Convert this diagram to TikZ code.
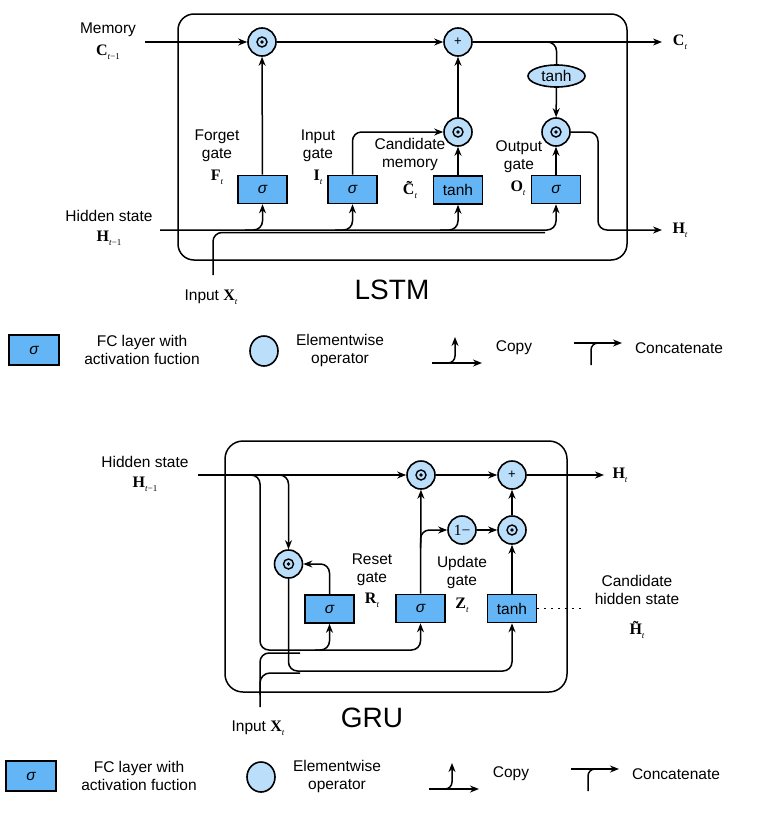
\documentclass[tikz,border=0pt]{standalone}
\usepackage{fontspec}
\setmainfont{Liberation Sans}
\newfontfamily\serif{Liberation Serif}
\usetikzlibrary{arrows.meta,shapes.geometric}
\definecolor{fcblue}{HTML}{64B5F6}
\definecolor{opblue}{HTML}{BBDEFB}
\newcommand\mv[2]{{\serif\fontsize{16}{16}\selectfont\bfseries #1}\raisebox{-0.45ex}{\serif\fontsize{9}{9}\selectfont\itshape #2}}
\newcommand\mvt[2]{{\serif\fontsize{16}{16}\selectfont\bfseries\~{#1}}\raisebox{-0.45ex}{\serif\fontsize{9}{9}\selectfont\itshape #2}}
\newcommand\tm{\/\upshape−1}
\tikzset{
 fc/.style={draw, fill=fcblue, minimum width=49pt, minimum height=28pt, line width=1.6pt},
 op/.style={draw, circle, fill=opblue, minimum size=28pt, line width=1.6pt},
 dotop/.style={op, path picture={
   \draw[black, line width=1.4pt] (path picture bounding box.center) circle[radius=5pt];
   \fill[black] (path picture bounding box.center) circle[radius=1.8pt];}},
 arr/.style={-{Stealth[length=9pt,width=7pt]}},
 lbl/.style={align=center},
 rc/.style={rounded corners=9pt},
 legend/.pic={
  \node[fc, minimum width=50pt, minimum height=30pt] (-box) at (34,0) {\itshape σ};
  \node[lbl] (-fct) at (142,0) {FC layer with\\activation fuction};
  \node[draw, ellipse, fill=opblue, minimum width=28pt, minimum height=30pt, line width=1.6pt] (-op) at (264,1) {};
  \node[lbl] (-opt) at (340,0) {Elementwise\\operator};
  \coordinate (-c1) at (432,13); \coordinate (-c2) at (482,13);
  \coordinate (-c3) at (445,13); \coordinate (-c4) at (455,-13);
  \draw[arr] (-c1) -- (-c2);
  \draw[arr, rounded corners=7pt] (-c3) -| (-c4);
  \node (-copy) at (514,-2) {Copy};
  \coordinate (-d1) at (574,-7); \coordinate (-d2) at (622,-7);
  \coordinate (-d3) at (591,15); \coordinate (-d4) at (605,-7);
  \draw[arr] (-d1) -- (-d2);
  \draw[rounded corners=7pt] (-d3) |- (-d4);
  \node (-cat) at (679,-2) {Concatenate};
 }
}
\begin{document}
\begin{tikzpicture}[x=1pt,y=-1pt, line width=1.5pt,
 every node/.style={font=\fontsize{15.5}{18}\selectfont, inner sep=0pt}]
\useasboundingbox (0,0) rectangle (777,838);
\fill[white] (0,0) rectangle (777,838);

%%%%%%%%%%%% LSTM
\draw[rounded corners=16pt] (178,14) rectangle (627,260);
\node[dotop] (fC) at (262,42) {};
\node[op] (plus) at (458,42) {\fontsize{13}{13}\selectfont +};
\node[dotop] (cC) at (458,132) {};
\node[dotop] (oC) at (556,132) {};
\node[draw, ellipse, fill=opblue, minimum width=57pt, minimum height=22pt, line width=1.6pt] (ctanh) at (556.5,76) {tanh};
\node[fc] (fF) at (262.5,189.5) {\itshape σ};
\node[fc] (fI) at (352.5,189.5) {\itshape σ};
\node[fc] (fT) at (458,190) {tanh};
\node[fc] (fO) at (556,189.5) {\itshape σ};

\coordinate (memin) at (145,42);
\coordinate (Cout) at (662,42);
\coordinate (Hin) at (160,230);
\coordinate (Hout) at (662,230);
\coordinate (Xin) at (213,275);
\coordinate (tb) at (540,42);
\coordinate (oR) at (598,132);
\coordinate (b1) at (245,230);
\coordinate (b2) at (335,230);
\coordinate (b3) at (440,230);
\coordinate (xe) at (545,232.5);

\draw[arr] (memin) -- (fC);
\draw[arr] (fC) -- (plus);
\draw[arr] (plus) -- (Cout);
\draw[rc] (tb) -| (ctanh.north);
\draw[arr] (ctanh) -- (oC);
\draw[arr] (fF) -- (fC);
\draw[arr, rc] (fI.north) |- (cC);
\draw[arr] (fT) -- (cC);
\draw[arr] (cC) -- (plus);
\draw[arr] (fO) -- (oC);
\draw[arr, rc] (oC.east) -| (oR |- Hout) -- (Hout);
\draw[arr, rc] (Hin) -| (fO.south);
\draw[arr, rc] (b1) -| (fF.south);
\draw[arr, rc] (b2) -| (fI.south);
\draw[arr, rc] (b3) -| (fT.south);
\draw[rc] (Xin) |- (xe);

\node (memt) at (108,30) {Memory};
\node (memv) at (108,52) {\mv{C}{t\tm}};
\node (hidt) at (109,216) {Hidden state};
\node (hidv) at (109,238) {\mv{H}{t\tm}};
\node (inp) at (211,297) {Input \mv{X}{t}};
\node (ctv) at (680,42) {\mv{C}{t}};
\node (htv) at (680,230) {\mv{H}{t}};
\node[lbl] (fgt) at (217,146) {Forget\\gate};
\node (fgv) at (217,177) {\mv{F}{t}};
\node[lbl] (igt) at (318,146) {Input\\gate};
\node (igv) at (318,177) {\mv{I}{t}};
\node[lbl] (cmt) at (410,154) {Candidate\\memory};
\node (cmv) at (410,190) {\mvt{C}{t}};
\node[lbl] (ogt) at (519,157) {Output\\gate};
\node (ogv) at (518,188) {\mv{O}{t}};
\node[font=\fontsize{28}{30}\selectfont] (lstm) at (392,290) {LSTM};

\pic (L1) at (0,350) {legend};

%%%%%%%%%%%% GRU
\draw[rounded corners=18pt] (225,441) rectangle (567,692);
\node[dotop] (gH) at (421,475) {};
\node[op] (gP) at (512,475) {\fontsize{13}{13}\selectfont +};
\node[op] (g1) at (462,530) {\serif 1−};
\node[dotop] (gM) at (512,530) {};
\node[dotop] (gR) at (288.5,564) {};
\node[fc] (bR) at (329.5,609) {\itshape σ};
\node[fc] (bZ) at (420.5,608.5) {\itshape σ};
\node[fc] (bT) at (512,608.5) {tanh};

\coordinate (Hin2) at (198,475);
\coordinate (Hout2) at (604,475);
\coordinate (Xin2) at (260,707);
\coordinate (zb) at (420.5,548);
\coordinate (hb1) at (250,475);
\coordinate (hb2) at (278,475);
\coordinate (gl) at (260,650);
\coordinate (gl2) at (315,650);
\coordinate (tl) at (288,671);
\coordinate (xa) at (300,653);
\coordinate (xb0) at (260,695);
\coordinate (xb) at (300,673);
\coordinate (dend) at (583,608.5);

\draw[arr] (Hin2) -- (gH);
\draw[arr] (gH) -- (gP);
\draw[arr] (gP) -- (Hout2);
\draw[arr] (bZ) -- (gH);
\draw[arr, rc] (zb) |- (g1.west);
\draw[arr] (g1) -- (gM);
\draw[arr] (bT) -- (gM);
\draw[arr] (gM) -- (gP);
\draw[arr, rc] (bR.north) |- (gR.east);
\draw[arr, rc] (hb2) -| (gR.north);
\draw[arr, rc] (hb1) -| (gl) -| (bZ.south);
\draw[arr, rc] (gl2) -| (bR.south);
\draw[arr, rc] (gR.south) |- (tl -| bT) -- (bT.south);
\draw[rc] (Xin2) |- (xa);
\draw[rounded corners=10pt] (xb0) |- (xb);
\draw[line width=1.4pt, dash pattern=on 2pt off 5pt] (bT.east) -- (dend);

\node (ghidt) at (145,462) {Hidden state};
\node (ghidv) at (145,484) {\mv{H}{t\tm}};
\node (ghtv) at (620,475) {\mv{H}{t}};
\node[lbl] (rgt) at (372,570) {Reset\\gate};
\node (rgv) at (372,600) {\mv{R}{t}};
\node[lbl] (ugt) at (462,572) {Update\\gate};
\node (ugv) at (462,605) {\mv{Z}{t}};
\node[lbl] (cht) at (637,590) {Candidate\\hidden state};
\node (chv) at (637,630) {\mvt{H}{t}};
\node[font=\fontsize{28}{30}\selectfont] (gru) at (372,718) {GRU};
\node (ginp) at (258,728) {Input \mv{X}{t}};

\pic (L2) at (-3,776) {legend};
\end{tikzpicture}
\end{document}
